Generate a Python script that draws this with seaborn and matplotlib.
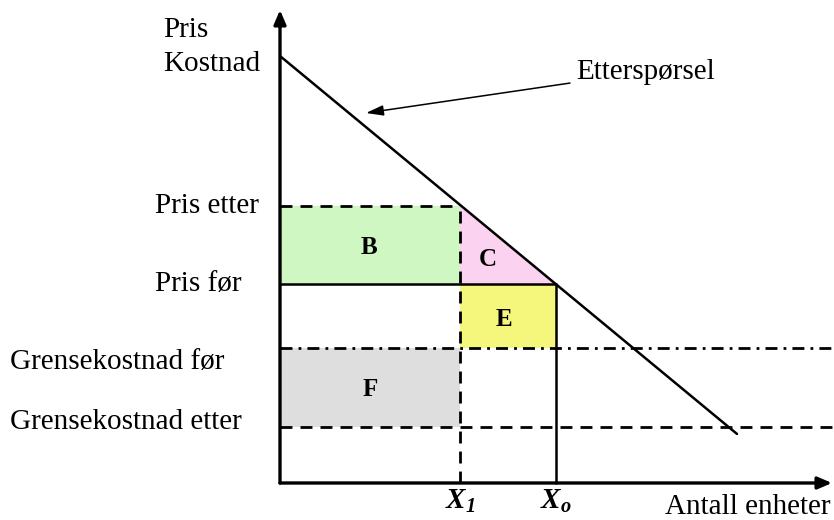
import numpy as np
import pandas as pd
import matplotlib
matplotlib.use("Agg")
import matplotlib.pyplot as plt
import seaborn as sns

# verdier lest av figuren (vilkårlige enheter)
demand_intercept = 42.7
demand_slope = 0.827
demand_q = [0.0, 45.7]
pris_etter = 27.7
pris_for = 19.9
mc_for = 13.5
mc_etter = 5.6
x1 = 18.0
x0 = 27.6
q_max = 55.2
p_max = 47.3

price_labels = ["Pris etter", "Pris før", "Grensekostnad før", "Grensekostnad etter"]
area_labels = ["B", "C", "E", "F"]
area_colors = ["#cff7c1", "#fbd3f0", "#f5f77c", "#dedede"]

sns.set_theme(style="white")
plt.rcParams["font.family"] = ["Liberation Serif", "DejaVu Serif"]
plt.rcParams["mathtext.fontset"] = "custom"
plt.rcParams["mathtext.rm"] = "Liberation Serif:bold:italic"
plt.rcParams["mathtext.it"] = "Liberation Serif:bold:italic"

fig = plt.figure(figsize=(8.34, 5.2), dpi=100)
ax = fig.add_axes([0, 0, 1, 1])
ax.set_xlim(-28.0, 55.4)
ax.set_ylim(-3.7, 48.3)
ax.axis("off")

# flater
ax.fill_between([0, x1], pris_for, pris_etter, color=area_colors[0], lw=0)
ax.fill([x1, x1, x0], [pris_etter, pris_for, pris_for], color=area_colors[1], lw=0)
ax.fill_between([x1, x0], mc_for, pris_for, color=area_colors[2], lw=0)
ax.fill_between([0, x1], mc_etter, mc_for, color=area_colors[3], lw=0)

# etterspørsel
df = pd.DataFrame({"q": demand_q})
df["p"] = demand_intercept - demand_slope * df["q"]
sns.lineplot(data=df, x="q", y="p", color="black", lw=1.8, ax=ax)

dash = (0, (4.3, 2.9))
dashdot = (0, (4.3, 2.2, 1.0, 2.2))
ax.plot([0, x1], [pris_etter, pris_etter], color="black", lw=2, ls=dash)
ax.plot([0, x0], [pris_for, pris_for], color="black", lw=1.8)
ax.plot([0, q_max], [mc_for, mc_for], color="black", lw=2, ls=dashdot)
ax.plot([0, q_max], [mc_etter, mc_etter], color="black", lw=2, ls=dash)
ax.plot([x1, x1], [0, pris_etter], color="black", lw=2, ls=dash)
ax.plot([x0, x0], [0, pris_for], color="black", lw=1.8)

# akser med piler
arrow = dict(arrowstyle="-|>,head_length=0.7,head_width=0.3", color="black", lw=2.4,
             shrinkA=0, shrinkB=0)
ax.annotate("", xy=(0, p_max), xytext=(0, 0), arrowprops=arrow)
ax.annotate("", xy=(q_max, 0), xytext=(0, 0), arrowprops=arrow)

fs = 21
ax.text(-11.7, 45.3, "Pris", fontsize=fs, va="center", color="black")
ax.text(-11.7, 41.9, "Kostnad", fontsize=fs, va="center", color="black")
ax.text(-12.5, pris_etter, price_labels[0], fontsize=fs, va="center", color="black")
ax.text(-12.5, pris_for, price_labels[1], fontsize=fs, va="center", color="black")
ax.text(-27.0, 12.1, price_labels[2], fontsize=fs, va="center", color="black")
ax.text(-27.0, 6.1, price_labels[3], fontsize=fs, va="center", color="black")
ax.text(38.5, -2.4, "Antall enheter", fontsize=fs, va="center", color="black")
ax.text(x1, -1.8, "$X_1$", fontsize=fs, ha="center", va="center", color="black")
ax.text(x0, -1.8, "$X_o$", fontsize=fs, ha="center", va="center", color="black")

ax.annotate("Etterspørsel", xy=(8.6, 37.0), xytext=(29.6, 41.1), fontsize=fs,
            va="center", color="black",
            arrowprops=dict(arrowstyle="-|>,head_length=0.5,head_width=0.15",
                            color="black", lw=1.1, shrinkA=2, shrinkB=0))

for lab, (tx, ty) in zip(area_labels, [(8.9, 23.6), (20.8, 22.4), (22.4, 16.4), (9.0, 9.3)]):
    ax.text(tx, ty, lab, fontsize=18, fontweight="bold", ha="center", va="center",
            color="black")

fig.savefig("out.png", dpi=100)
